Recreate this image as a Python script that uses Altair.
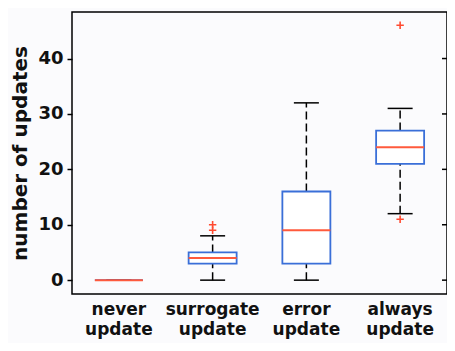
import altair as alt
import pandas as pd

cats = ["never update", "surrogate update", "error update", "always update"]
q1 = [0, 3, 3, 21]
med = [0, 4, 9, 24]
q3 = [0, 5, 16, 27]
lo = [0, 0, 0, 12]
hi = [0, 8, 32, 31]
out_cat = ["surrogate update", "surrogate update", "always update", "always update"]
out_val = [9, 10, 11, 46]
yticks = [0, 10, 20, 30, 40]

W, H = 375, 282
FONT = "DejaVu Sans"

df = pd.DataFrame({"cat": cats, "q1": q1, "med": med, "q3": q3, "lo": lo, "hi": hi})
dout = pd.DataFrame({"cat": out_cat, "v": out_val})
dticks = pd.DataFrame({"v": yticks})

xsc = alt.Scale(domain=cats, paddingInner=0, paddingOuter=0)
ysc = alt.Scale(domain=[-2.5, 48.4], nice=False, zero=False)

xax = alt.Axis(title=None, labelExpr="split(datum.label, ' ')", labelAngle=0,
               ticks=False, domain=False, labelPadding=7, labelLineHeight=20,
               labelFont=FONT, labelFontSize=17, labelFontWeight="bold",
               labelColor="#111", labelBaseline="top")
yax = alt.Axis(title="number of updates", values=yticks, tickSize=5, tickColor="black",
               tickWidth=1.5, domain=False, grid=False, labelPadding=4,
               labelFont=FONT, labelFontSize=18, labelFontWeight="bold", labelColor="#111",
               titleFont=FONT, titleFontSize=20, titleFontWeight="bold", titleColor="#111",
               titlePadding=7)

X = alt.X("cat:N", sort=cats, scale=xsc, axis=xax)
base = alt.Chart(df)

dash = [8, 4]
wh_up = base.mark_rule(color="black", strokeWidth=1.5, strokeDash=dash).encode(
    x=X, y=alt.Y("q3:Q", scale=ysc, axis=yax), y2="hi:Q")
wh_lo = base.mark_rule(color="black", strokeWidth=1.5, strokeDash=dash).encode(
    x=X, y=alt.Y("lo:Q", scale=ysc), y2="q1:Q")
cap_hi = base.mark_tick(color="black", size=25, thickness=1.5, opacity=1).encode(
    x=X, y=alt.Y("hi:Q", scale=ysc))
cap_lo = base.mark_tick(color="black", size=25, thickness=1.5, opacity=1).encode(
    x=X, y=alt.Y("lo:Q", scale=ysc))
box = base.mark_bar(size=48, fill="white", stroke="#3a6fd8", strokeWidth=1.8, opacity=1).encode(
    x=X, y=alt.Y("q1:Q", scale=ysc), y2="q3:Q")
median = base.mark_tick(color="#ff5a3c", size=48, thickness=2, opacity=1).encode(
    x=X, y=alt.Y("med:Q", scale=ysc))
outl = alt.Chart(dout).mark_point(shape="M-1,0L1,0M0,-1L0,1", filled=False, color="#ff4a30",
                                  size=55, strokeWidth=1.6, opacity=1).encode(
    x=X, y=alt.Y("v:Q", scale=ysc))
rticks = alt.Chart(dticks).mark_rule(color="black", strokeWidth=1.5).encode(
    y=alt.Y("v:Q", scale=ysc), x=alt.value(W - 5), x2=alt.value(W))

chart = alt.layer(wh_up, wh_lo, cap_hi, cap_lo, box, median, outl, rticks).properties(
    width=W, height=H,
    autosize=alt.AutoSizeParams(type="none"),
    padding={"left": 64, "top": 4, "right": 0, "bottom": 49},
    background="#fbfbfd",
).configure_view(stroke="black", strokeWidth=1.5)

chart.save("out.html", embed_options={"renderer": "svg", "actions": False})
